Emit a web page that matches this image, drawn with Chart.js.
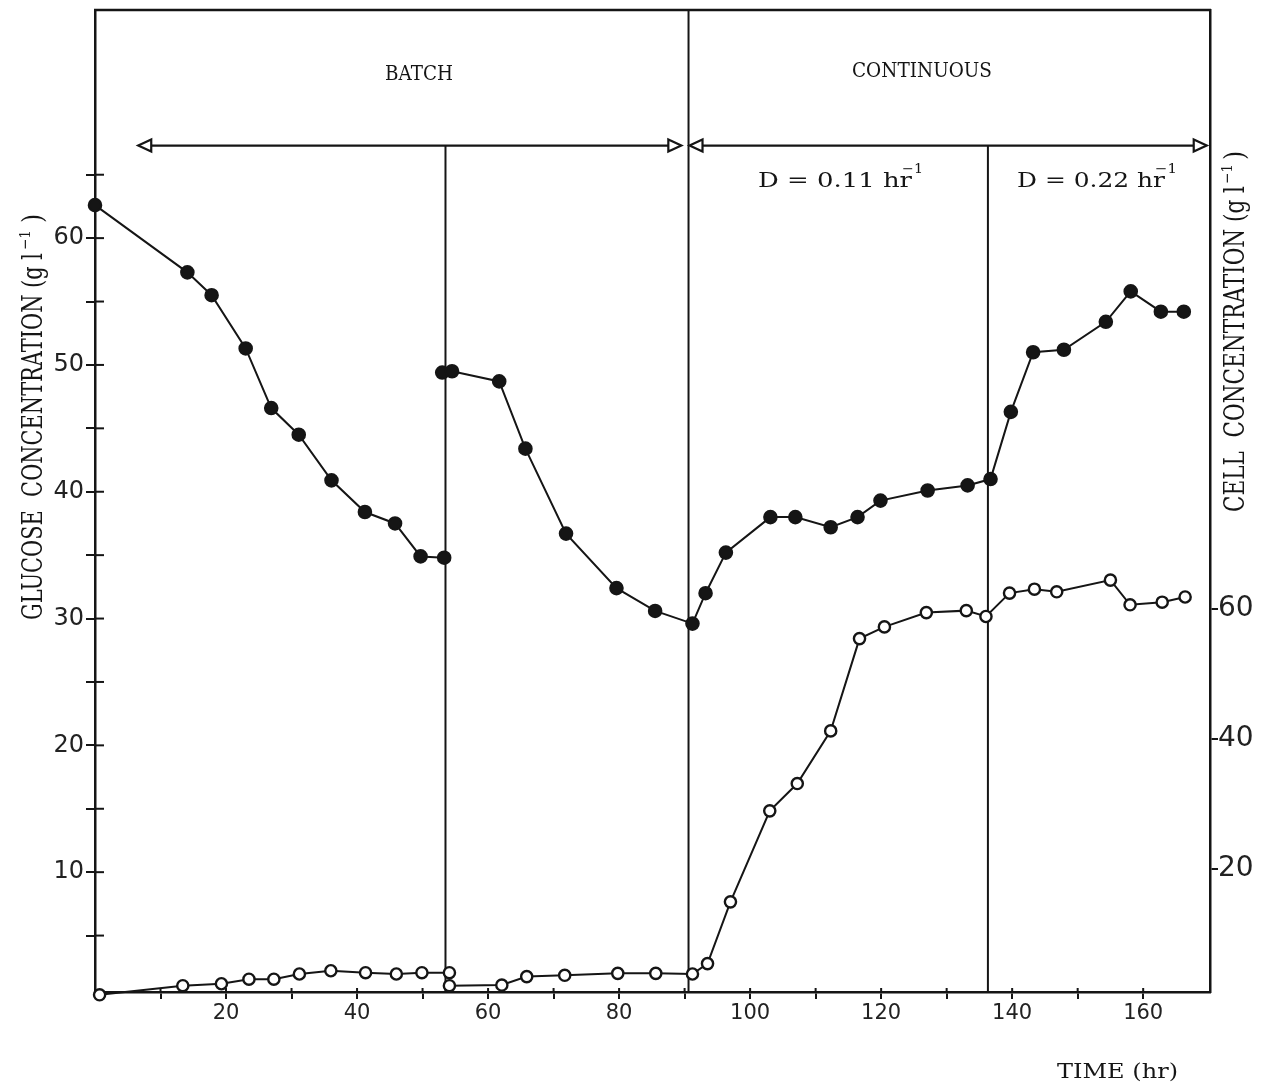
<!DOCTYPE html>
<html>
<head>
<meta charset="utf-8">
<script src="https://cdn.jsdelivr.net/npm/chart.js@4.4.1/dist/chart.umd.min.js"></script>
<style>
html,body{margin:0;padding:0;background:#fff;}
#wrap{width:1264px;height:1086px;position:relative;}
canvas{display:block;}
</style>
</head>
<body>
<div id="wrap"><canvas id="c" width="1264" height="1086"></canvas></div>
<script>
// ---- data (time in hr, glucose in g/l on left axis, cell in g/l on right axis) ----
const glucoseBatchTime = [0, 14.1, 17.8, 23.0, 26.9, 31.1, 36.1, 41.2, 45.8, 49.7, 53.3];
const glucoseBatch     = [62.6, 57.3, 55.5, 51.3, 46.6, 44.5, 40.9, 38.4, 37.5, 34.9, 34.8];

const glucoseRunTime = [53.0, 54.5, 61.7, 65.7, 71.9, 79.6, 85.5, 91.2, 93.2, 96.3, 103.1, 106.9, 112.3, 116.4, 119.9, 127.1, 133.2, 136.7, 139.8, 143.2, 147.9, 154.3, 158.1, 162.7, 166.2];
const glucoseRun     = [49.4, 49.5, 48.7, 43.4, 36.7, 32.4, 30.6, 29.6, 32.0, 35.2, 38.0, 38.0, 37.2, 38.0, 39.3, 40.1, 40.5, 41.0, 46.3, 51.0, 51.2, 53.4, 55.8, 54.2, 54.2];

const cellBatchTime = [0.7, 13.4, 19.3, 23.5, 27.3, 31.2, 36.0, 41.3, 46.0, 49.9, 54.1];
const cellBatch     = [0.6, 2.0, 2.3, 3.0, 3.0, 3.8, 4.3, 4.0, 3.8, 4.0, 4.0];

const cellRunTime = [54.1, 62.1, 65.9, 71.7, 79.8, 85.6, 91.2, 93.5, 97.0, 103.0, 107.2, 112.3, 116.7, 120.5, 126.9, 133.0, 136.0, 139.6, 143.4, 146.8, 155.0, 158.0, 162.9, 166.4];
const cellRun     = [2.0, 2.1, 3.4, 3.6, 3.9, 3.9, 3.8, 5.4, 14.9, 28.9, 33.1, 41.2, 55.4, 57.2, 59.4, 59.7, 58.8, 62.4, 63.0, 62.6, 64.4, 60.6, 61.0, 61.8];

const xTickValues     = [10, 20, 30, 40, 50, 60, 70, 80, 90, 100, 110, 120, 130, 140, 150, 160];
const xLabelValues    = [20, 40, 60, 80, 100, 120, 140, 160];
const leftTickValues  = [5, 10, 15, 20, 25, 30, 35, 40, 45, 50, 55, 60, 65];
const leftLabelValues = [10, 20, 30, 40, 50, 60];
const rightTickValues = [20, 40, 60];

// phase markers (time, hr) and arrow level (glucose units)
const batchSplitTime = 53.5;
const continuousStartTime = 90.6;
const dilutionChangeTime = 136.3;
const arrowLevel = 67.3;
const batchArrow = [6.6, 89.5];
const continuousArrow = [90.75, 169.7];

const INK = '#151515';
const TYPE = '"DejaVu Serif", "Liberation Serif", serif';

function pts(xs, ys){ return xs.map((t,i)=>({x:t, y:ys[i]})); }

function fitText(ctx, str, x0, yBase, width, size){
  ctx.font = size + 'px ' + TYPE;
  const w = ctx.measureText(str).width;
  ctx.save();
  ctx.translate(x0, yBase);
  ctx.scale(width / w, 1);
  ctx.textAlign = 'left';
  ctx.textBaseline = 'alphabetic';
  ctx.fillText(str, 0, 0);
  ctx.restore();
}

function arrowHead(ctx, tipX, y, dir){
  const L = 13, H = 6;
  ctx.beginPath();
  ctx.moveTo(tipX, y);
  ctx.lineTo(tipX - dir*L, y - H);
  ctx.lineTo(tipX - dir*L, y + H);
  ctx.closePath();
  ctx.fillStyle = '#fff';
  ctx.fill();
  ctx.stroke();
}

const deco = {
  id: 'deco',
  beforeDatasetsDraw(chart){
    const {ctx, chartArea: a, scales} = chart;
    const x = scales.x, y = scales.y;
    ctx.save();
    ctx.strokeStyle = INK;
    ctx.lineCap = 'butt';
    // top frame line
    ctx.lineWidth = 2.5;
    ctx.beginPath(); ctx.moveTo(a.left - 1, a.top); ctx.lineTo(a.right + 1, a.top); ctx.stroke();

    const ay = y.getPixelForValue(arrowLevel);
    ctx.lineWidth = 2;
    // phase dividers
    const v = (t, yTop) => { const px = x.getPixelForValue(t); ctx.beginPath(); ctx.moveTo(px, yTop); ctx.lineTo(px, a.bottom); ctx.stroke(); };
    v(batchSplitTime, ay);
    v(continuousStartTime, a.top);
    v(dilutionChangeTime, ay);

    // arrows
    ctx.lineWidth = 2.2;
    const drawArrow = (t0, t1) => {
      const p0 = x.getPixelForValue(t0), p1 = x.getPixelForValue(t1);
      ctx.beginPath(); ctx.moveTo(p0 + 13, ay); ctx.lineTo(p1 - 13, ay); ctx.stroke();
      arrowHead(ctx, p0, ay, -1);
      arrowHead(ctx, p1, ay, 1);
    };
    drawArrow(batchArrow[0], batchArrow[1]);
    drawArrow(continuousArrow[0], continuousArrow[1]);

    // inner halves of tick marks
    ctx.lineWidth = 2;
    leftTickValues.forEach(vv => { const py = y.getPixelForValue(vv); ctx.beginPath(); ctx.moveTo(a.left, py); ctx.lineTo(a.left + 9, py); ctx.stroke(); });
    xTickValues.forEach(vv => { const px = x.getPixelForValue(vv); ctx.beginPath(); ctx.moveTo(px, a.bottom); ctx.lineTo(px, a.bottom - 4); ctx.stroke(); });
    ctx.restore();
  },
  afterDraw(chart){
    const {ctx} = chart;
    ctx.save();
    ctx.fillStyle = INK;
    // phase labels
    fitText(ctx, 'BATCH', 385, 80, 68, 20.5);
    fitText(ctx, 'CONTINUOUS', 852, 77, 140, 20.5);
    fitText(ctx, 'D = 0.11 hr', 758, 187, 154, 20.5);
    fitText(ctx, '\u22121', 902, 173, 21, 13);
    fitText(ctx, 'D = 0.22 hr', 1017, 187, 148, 20.5);
    fitText(ctx, '\u22121', 1155, 173, 22, 13);
    // x title
    fitText(ctx, 'TIME (hr)', 1057, 1078, 121, 20.5);

    // left title (rotated)
    ctx.save();
    ctx.translate(32, 620);
    ctx.rotate(-Math.PI/2);
    fitText(ctx, 'GLUCOSE  CONCENTRATION (g l', 0, 10, 367, 27);
    fitText(ctx, '\u22121', 370, -2, 20, 15);
    fitText(ctx, ')', 397, 10, 9, 27);
    ctx.restore();

    // right title (rotated)
    ctx.save();
    ctx.translate(1234, 512);
    ctx.rotate(-Math.PI/2);
    fitText(ctx, 'CELL  CONCENTRATION (g l', 0, 10, 326, 27);
    fitText(ctx, '\u22121', 328, -2, 20, 15);
    fitText(ctx, ')', 352, 10, 9, 27);
    ctx.restore();

    ctx.restore();
  }
};

const lineBase = {
  borderColor: INK,
  borderWidth: 2,
  tension: 0,
  clip: false,
  pointBorderColor: INK,
};

function noVPad(s, w){ s.width = w; s.paddingTop = 0; s.paddingBottom = 0; }

new Chart(document.getElementById('c'), {
  type: 'line',
  data: {
    datasets: [
      Object.assign({label: 'Glucose (batch 1)', data: pts(glucoseBatchTime, glucoseBatch), yAxisID: 'y',
        pointBackgroundColor: INK, pointRadius: 6.3, pointBorderWidth: 2}, lineBase),
      Object.assign({label: 'Glucose (batch 2 / continuous)', data: pts(glucoseRunTime, glucoseRun), yAxisID: 'y',
        pointBackgroundColor: INK, pointRadius: 6.3, pointBorderWidth: 2}, lineBase),
      Object.assign({label: 'Cell (batch 1)', data: pts(cellBatchTime, cellBatch), yAxisID: 'y2',
        pointBackgroundColor: '#fff', pointRadius: 5.6, pointBorderWidth: 2.4}, lineBase),
      Object.assign({label: 'Cell (batch 2 / continuous)', data: pts(cellRunTime, cellRun), yAxisID: 'y2',
        pointBackgroundColor: '#fff', pointRadius: 5.6, pointBorderWidth: 2.4}, lineBase),
    ]
  },
  options: {
    responsive: false,
    animation: false,
    devicePixelRatio: 1,
    layout: {padding: {top: 10, left: 0, right: 0, bottom: 0}},
    plugins: {legend: {display: false}, tooltip: {enabled: false}, title: {display: false}},
    scales: {
      x: {
        type: 'linear', position: 'bottom', min: 0, max: 170.2,
        afterBuildTicks: (s) => { s.ticks = xTickValues.map(v => ({value: v})); },
        afterFit: (s) => { s.height = 94; s.paddingLeft = 0; s.paddingRight = 0; },
        grid: {drawOnChartArea: false, drawTicks: true, tickLength: 7, color: INK, lineWidth: 2},
        border: {display: true, color: INK, width: 2.5},
        ticks: {autoSkip: false, maxRotation: 0, padding: 2, color: '#222',
          font: {family: '"DejaVu Sans", sans-serif', size: 21},
          callback: (v) => xLabelValues.includes(v) ? String(v) : ''}
      },
      y: {
        type: 'linear', position: 'left', min: 0.55, max: 77.99,
        afterBuildTicks: (s) => { s.ticks = leftTickValues.map(v => ({value: v})); },
        afterFit: (s) => noVPad(s, 95),
        grid: {drawOnChartArea: false, drawTicks: true, tickLength: 9, color: INK, lineWidth: 2},
        border: {display: true, color: INK, width: 2.5},
        ticks: {autoSkip: false, padding: 2, color: '#222',
          font: {family: '"DejaVu Sans", sans-serif', size: 24},
          callback: (v) => leftLabelValues.includes(v) ? String(v) : ''}
      },
      y2: {
        type: 'linear', position: 'right', min: 1.03, max: 152.1,
        afterBuildTicks: (s) => { s.ticks = rightTickValues.map(v => ({value: v})); },
        afterFit: (s) => noVPad(s, 54),
        grid: {drawOnChartArea: false, drawTicks: true, tickLength: 8, color: INK, lineWidth: 2},
        border: {display: true, color: INK, width: 2.5},
        ticks: {autoSkip: false, padding: 0, color: '#222',
          font: {family: '"DejaVu Sans", sans-serif', size: 28},
          callback: (v) => String(v)}
      }
    }
  },
  plugins: [deco]
});
</script>
</body>
</html>
